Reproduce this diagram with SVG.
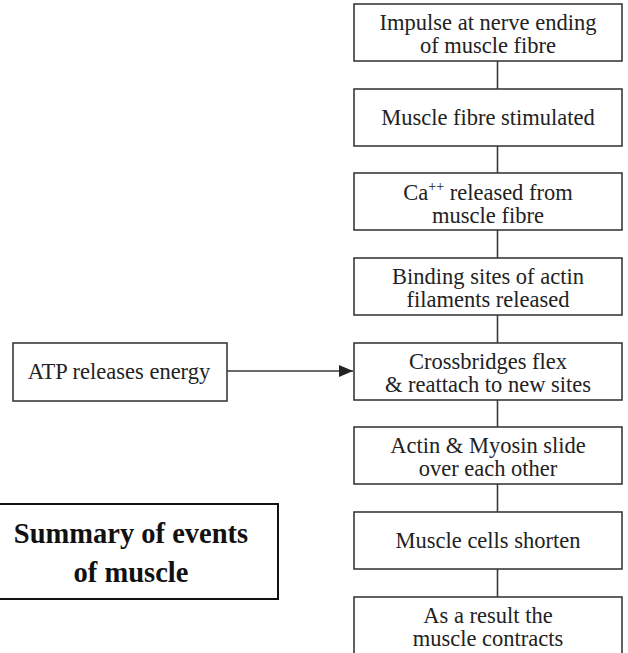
<svg xmlns="http://www.w3.org/2000/svg" width="628" height="653" viewBox="0 0 628 653">
<defs>
<style>
.box{fill:#fff;stroke:#3a3a3a;stroke-width:1.6}
.t{font-family:"Liberation Serif","Times New Roman",serif;font-size:22.5px;fill:#222;text-anchor:middle}
.c{stroke:#3a3a3a;stroke-width:1.6;fill:none}
.sum{fill:#fff;stroke:#111;stroke-width:2}
.st{font-family:"Liberation Serif","Times New Roman",serif;font-size:28.5px;font-weight:bold;fill:#111;text-anchor:middle}
</style>
<marker id="ah" markerWidth="14" markerHeight="12" refX="14" refY="6" orient="auto" markerUnits="userSpaceOnUse">
<path d="M0,0 L14,6 L0,12 Z" fill="#222"/>
</marker>
</defs>
<rect width="628" height="653" fill="#fff"/>
<g id="connectors">
<line class="c" x1="497.5" y1="61" x2="497.5" y2="89"/>
<line class="c" x1="497.5" y1="146" x2="497.5" y2="173"/>
<line class="c" x1="497.5" y1="230" x2="497.5" y2="258"/>
<line class="c" x1="497.5" y1="315" x2="497.5" y2="343"/>
<line class="c" x1="497.5" y1="400" x2="497.5" y2="427"/>
<line class="c" x1="497.5" y1="484" x2="497.5" y2="512"/>
<line class="c" x1="497.5" y1="569" x2="497.5" y2="597"/>
<line class="c" x1="227" y1="371" x2="353" y2="371" marker-end="url(#ah)"/>
</g>
<g id="n1"><rect class="box" x="354" y="4" width="268" height="57"/>
<text class="t" x="488" y="29.5">Impulse at nerve ending</text><text class="t" x="488" y="52.5">of muscle fibre</text></g>
<g id="n2"><rect class="box" x="354" y="89" width="268" height="57"/>
<text class="t" x="488" y="125">Muscle fibre stimulated</text></g>
<g id="n3"><rect class="box" x="354" y="173" width="268" height="57"/>
<text class="t" x="488" y="199.5">Ca<tspan font-size="14" dy="-9">++</tspan><tspan dy="9"> released from</tspan></text><text class="t" x="488" y="222.5">muscle fibre</text></g>
<g id="n4"><rect class="box" x="354" y="258" width="268" height="57"/>
<text class="t" x="488" y="283.5">Binding sites of actin</text><text class="t" x="488" y="306.5">filaments released</text></g>
<g id="n5"><rect class="box" x="354" y="343" width="268" height="57"/>
<text class="t" x="488" y="368.5">Crossbridges flex</text><text class="t" x="488" y="391.5">&amp; reattach to new sites</text></g>
<g id="n6"><rect class="box" x="354" y="427" width="268" height="57"/>
<text class="t" x="488" y="452.5">Actin &amp; Myosin slide</text><text class="t" x="488" y="475.5">over each other</text></g>
<g id="n7"><rect class="box" x="354" y="512" width="268" height="57"/>
<text class="t" x="488" y="548">Muscle cells shorten</text></g>
<g id="n8"><rect class="box" x="354" y="597" width="268" height="60"/>
<text class="t" x="488" y="622.5">As a result the</text><text class="t" x="488" y="645.5">muscle contracts</text></g>
<g id="atp"><rect class="box" x="13" y="343" width="214" height="58"/>
<text class="t" x="119" y="379">ATP releases energy</text></g>
<g id="summary"><rect class="sum" x="-2" y="504" width="280" height="95"/>
<text class="st" x="131" y="543">Summary of events</text><text class="st" x="131" y="582">of muscle</text></g>
</svg>
